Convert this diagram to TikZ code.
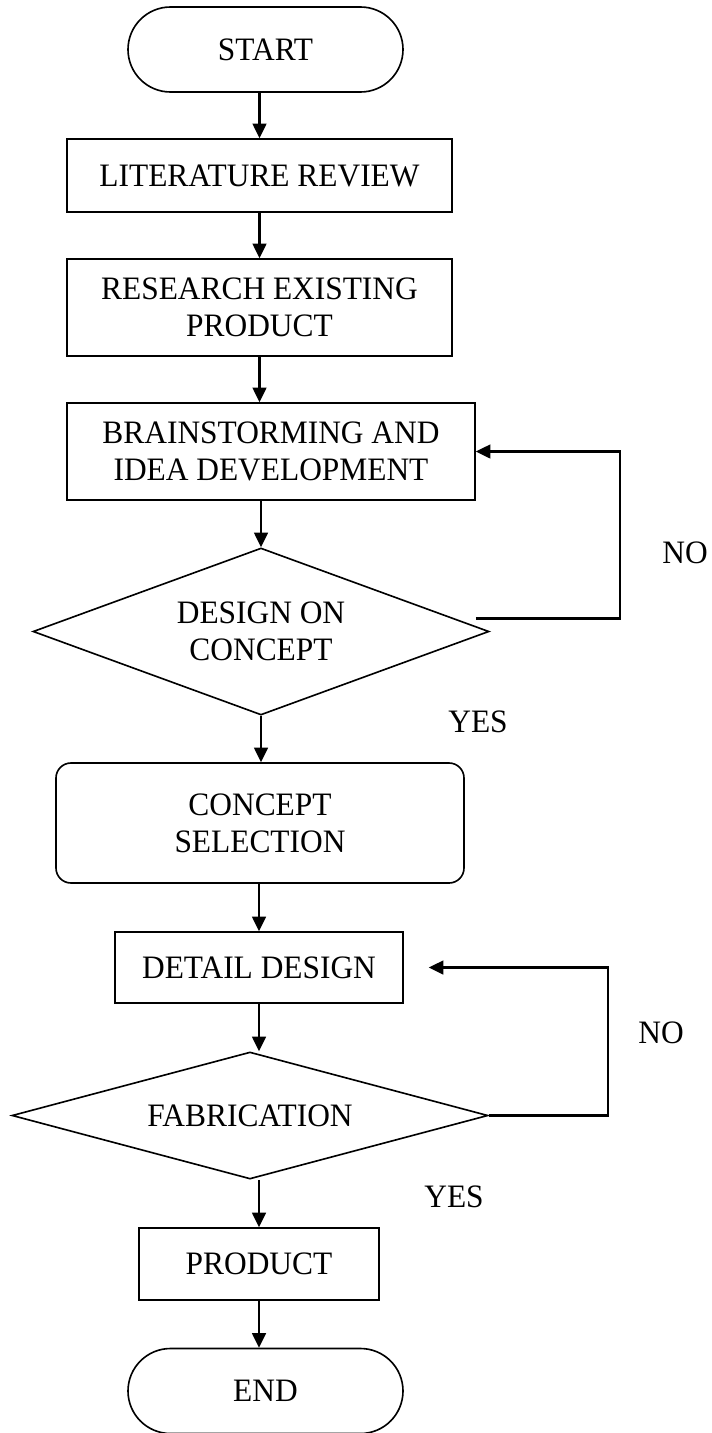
\documentclass[tikz,border=0pt]{standalone}
\usepackage{fontspec}
\setmainfont{Liberation Serif}[FakeStretch=0.96]
\usetikzlibrary{arrows.meta,positioning,calc,shapes.geometric,shapes.misc}
\tikzset{
  terminal/.style={draw, line width=0.6pt, rounded rectangle, inner sep=0pt,
    minimum width=3.575cm, minimum height=1.105cm},
  process/.style={draw, line width=0.6pt, rectangle, align=center, inner sep=0pt},
  decision/.style={draw, line width=0.6pt, diamond, align=center, inner sep=0pt},
  flow/.style={line width=0.75pt, -{Triangle[length=1.9mm, width=1.8mm]}},
  lbl/.style={inner sep=0pt}
}
\begin{document}
\begin{tikzpicture}[x=0.013cm, y=-0.013cm, font=\fontsize{12.1}{13.7}\selectfont]
    \useasboundingbox (0,0) rectangle (711,1433);
    % main column
    \node[terminal] (start) at (265.5,49.5) {START};
    \node[process, minimum width=5.005cm, minimum height=0.949cm] (lit) at (259.5,175.5) {LITERATURE REVIEW};
    \node[process, minimum width=5.005cm, minimum height=1.261cm] (res) at (259.5,307.5) {RESEARCH EXISTING\\ PRODUCT};
    \node[process, minimum width=5.304cm, minimum height=1.261cm] (bs) at (271,451.5) {BRAINSTORMING AND\\ IDEA DEVELOPMENT};
    \node[decision, aspect=2.73, minimum width=5.928cm, minimum height=2.171cm] (d1) at (261,631.5) {DESIGN ON\\ CONCEPT};
    \node[process, rounded corners=0.195cm, minimum width=5.304cm, minimum height=1.56cm] (cs) at (260,823) {CONCEPT\\ SELECTION};
    \node[process, minimum width=3.744cm, minimum height=0.923cm] (dd) at (259,967.5) {DETAIL DESIGN};
    \node[decision, aspect=3.75, minimum width=6.188cm, minimum height=1.651cm] (d2) at (250,1115.5) {FABRICATION};
    \node[process, minimum width=3.12cm, minimum height=0.936cm] (pr) at (259,1264) {PRODUCT};
    \node[terminal] (fin) at (265.5,1391) {END};
    % labels
    \node[lbl] (no1) at (685,553) {NO};
    \node[lbl] (yes1) at (478,722) {YES};
    \node[lbl] (no2) at (661,1033) {NO};
    \node[lbl] (yes2) at (454,1197) {YES};
    % arrows
    \draw[flow] (start.south -| lit.north) -- (lit.north);
    \draw[flow] (lit.south) -- (res.north);
    \draw[flow] (res.south) -- (res.south |- bs.north);
    \draw[flow] (bs.south -| d1.north) -- (d1.north);
    \draw[flow] (d1.south) -- (d1.south |- cs.north);
    \draw[flow] (cs.south -| dd.north) -- (dd.north);
    \draw[flow] (dd.south) -- (dd.south |- d2.north);
    \draw[flow] (d2.south -| pr.north) -- (pr.north);
    \draw[flow] (pr.south) -- (pr.south |- fin.north);
    % loops back
    \coordinate (n1) at ($(d1.east)+(-14,-13)$);
    \draw[flow] (n1) -- ++(144,0) |- (bs.east);
    \coordinate (n2) at ($(dd.east)+(25,0)$);
    \draw[flow] (d2.east) -- ++(119,0) |- (n2);
\end{tikzpicture}
\end{document}
